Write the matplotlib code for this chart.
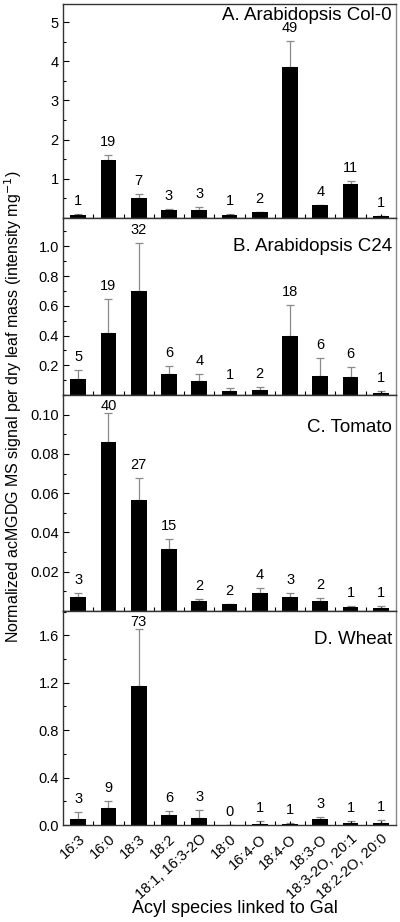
import matplotlib
matplotlib.use("Agg")
import matplotlib.pyplot as plt
import numpy as np
from matplotlib.ticker import MultipleLocator, FixedLocator

plt.rcParams['font.family'] = ['Liberation Sans', 'DejaVu Sans']

categories = ["16:3", "16:0", "18:3", "18:2", "18:1, 16:3-2O", "18:0",
              "16:4-O", "18:4-O", "18:3-O", "18:3-2O, 20:1", "18:2-2O, 20:0"]

col0_vals = [0.085, 1.47, 0.52, 0.21, 0.21, 0.08, 0.145, 3.86, 0.32, 0.87, 0.05]
col0_errtop = [0.10, 1.60, 0.61, 0.23, 0.28, 0.09, 0.16, 4.51, 0.33, 0.94, 0.06]
col0_n = [1, 19, 7, 3, 3, 1, 2, 49, 4, 11, 1]

c24_vals = [0.108, 0.42, 0.696, 0.139, 0.092, 0.029, 0.034, 0.40, 0.128, 0.123, 0.016]
c24_errtop = [0.168, 0.646, 1.02, 0.195, 0.141, 0.045, 0.052, 0.606, 0.25, 0.19, 0.025]
c24_n = [5, 19, 32, 6, 4, 1, 2, 18, 6, 6, 1]

tomato_vals = [0.0070, 0.0862, 0.0566, 0.0315, 0.0049, 0.0034, 0.0090, 0.0070, 0.0049, 0.0022, 0.0017]
tomato_errtop = [0.0090, 0.1010, 0.0677, 0.0369, 0.0061, 0.0037, 0.0117, 0.0090, 0.0065, 0.0024, 0.0025]
tomato_n = [3, 40, 27, 15, 2, 2, 4, 3, 2, 1, 1]

wheat_vals = [0.050, 0.146, 1.176, 0.087, 0.056, 0.0, 0.011, 0.008, 0.047, 0.018, 0.018]
wheat_errtop = [0.110, 0.205, 1.650, 0.115, 0.126, 0.0, 0.030, 0.013, 0.067, 0.035, 0.045]
wheat_n = [3, 9, 73, 6, 3, 0, 1, 1, 3, 1, 1]

panels = [
    ("A. Arabidopsis Col-0", col0_vals, col0_errtop, col0_n, 5.46, [1, 2, 3, 4, 5], 0.5, "%d", 11),
    ("B. Arabidopsis C24", c24_vals, c24_errtop, c24_n, 1.19, [0.2, 0.4, 0.6, 0.8, 1.0], 0.1, "%.1f", 29),
    ("C. Tomato", tomato_vals, tomato_errtop, tomato_n, 0.110, [0.02, 0.04, 0.06, 0.08, 0.10], 0.01, "%.2f", 32),
    ("D. Wheat", wheat_vals, wheat_errtop, wheat_n, 1.805, [0.0, 0.4, 0.8, 1.2, 1.6], 0.2, "%.1f", 28),
]

W, H = 400, 922
fig = plt.figure(figsize=(W / 100, H / 100), dpi=100)
edges = [4, 218, 395, 611, 825]
left, right = 63, 396
x = np.arange(len(categories))

for i, (title, vals, errtop, ns, ytop, yt, minor, fmt, tdist) in enumerate(panels):
    top_px, bot_px = edges[i], edges[i + 1]
    hpx = bot_px - top_px
    ax = fig.add_axes([left / W, 1 - bot_px / H, (right - left) / W, hpx / H])
    vals = np.array(vals)
    err = np.array(errtop) - vals
    ax.bar(x, vals, width=0.52, color='black', zorder=2)
    ax.errorbar(x, vals, yerr=[np.zeros_like(err), err], fmt='none', ecolor='#8a8a8a',
                elinewidth=0.9, capsize=3, capthick=0.9, zorder=1)
    for xi, et, n in zip(x, errtop, ns):
        y_et = top_px + (1 - et / ytop) * hpx
        c = max(y_et - 13, top_px + 11)
        c = min(c, y_et - 5)
        t = ax.annotate(str(n), (xi, et), xytext=(0, y_et - c), textcoords='offset pixels',
                        ha='center', va='center', fontsize=10.5, annotation_clip=False)
        t.set_clip_on(False)
        t.set_zorder(5)
    ax.set_xlim(-0.5, len(categories) - 0.5)
    ax.set_ylim(0, ytop)
    ax.yaxis.set_major_locator(FixedLocator(yt))
    ax.yaxis.set_minor_locator(MultipleLocator(minor))
    ax.set_yticklabels([fmt % v for v in yt])
    ax.set_xticks(x)
    ax.set_xticks(x[:-1] + 0.5, minor=True)
    ax.tick_params(axis='both', which='both', direction='in', labelsize=10.5)
    ax.tick_params(axis='y', which='major', length=4, width=0.8, pad=3)
    ax.tick_params(axis='y', which='minor', length=2.5, width=0.8)
    ax.tick_params(axis='x', which='major', length=3, width=0.8)
    ax.tick_params(axis='x', which='minor', length=3, width=0.8)
    for s in ax.spines.values():
        s.set_color('#333333')
        s.set_linewidth(1.0)
    ax.spines['right'].set_color('#888888')
    ax.text(1 - 4 / (right - left), 1 - tdist / hpx, title, transform=ax.transAxes,
            ha='right', va='center', fontsize=13.5)
    if i < 3:
        ax.set_xticklabels([])
    else:
        ax.set_xticklabels(categories, rotation=42, ha='right', rotation_mode='anchor',
                           fontsize=10.5)
        ax.tick_params(axis='x', pad=5)

fig.text(235 / W, 1 - 908 / H, "Acyl species linked to Gal", ha='center', va='center', fontsize=13)
fig.text(13 / W, 1 - 407 / H, "Normalized acMGDG MS signal per dry leaf mass (intensity mg$^{-1}$)",
         rotation=90, ha='center', va='center', fontsize=11.5)

fig.savefig("out.png", dpi=100)
